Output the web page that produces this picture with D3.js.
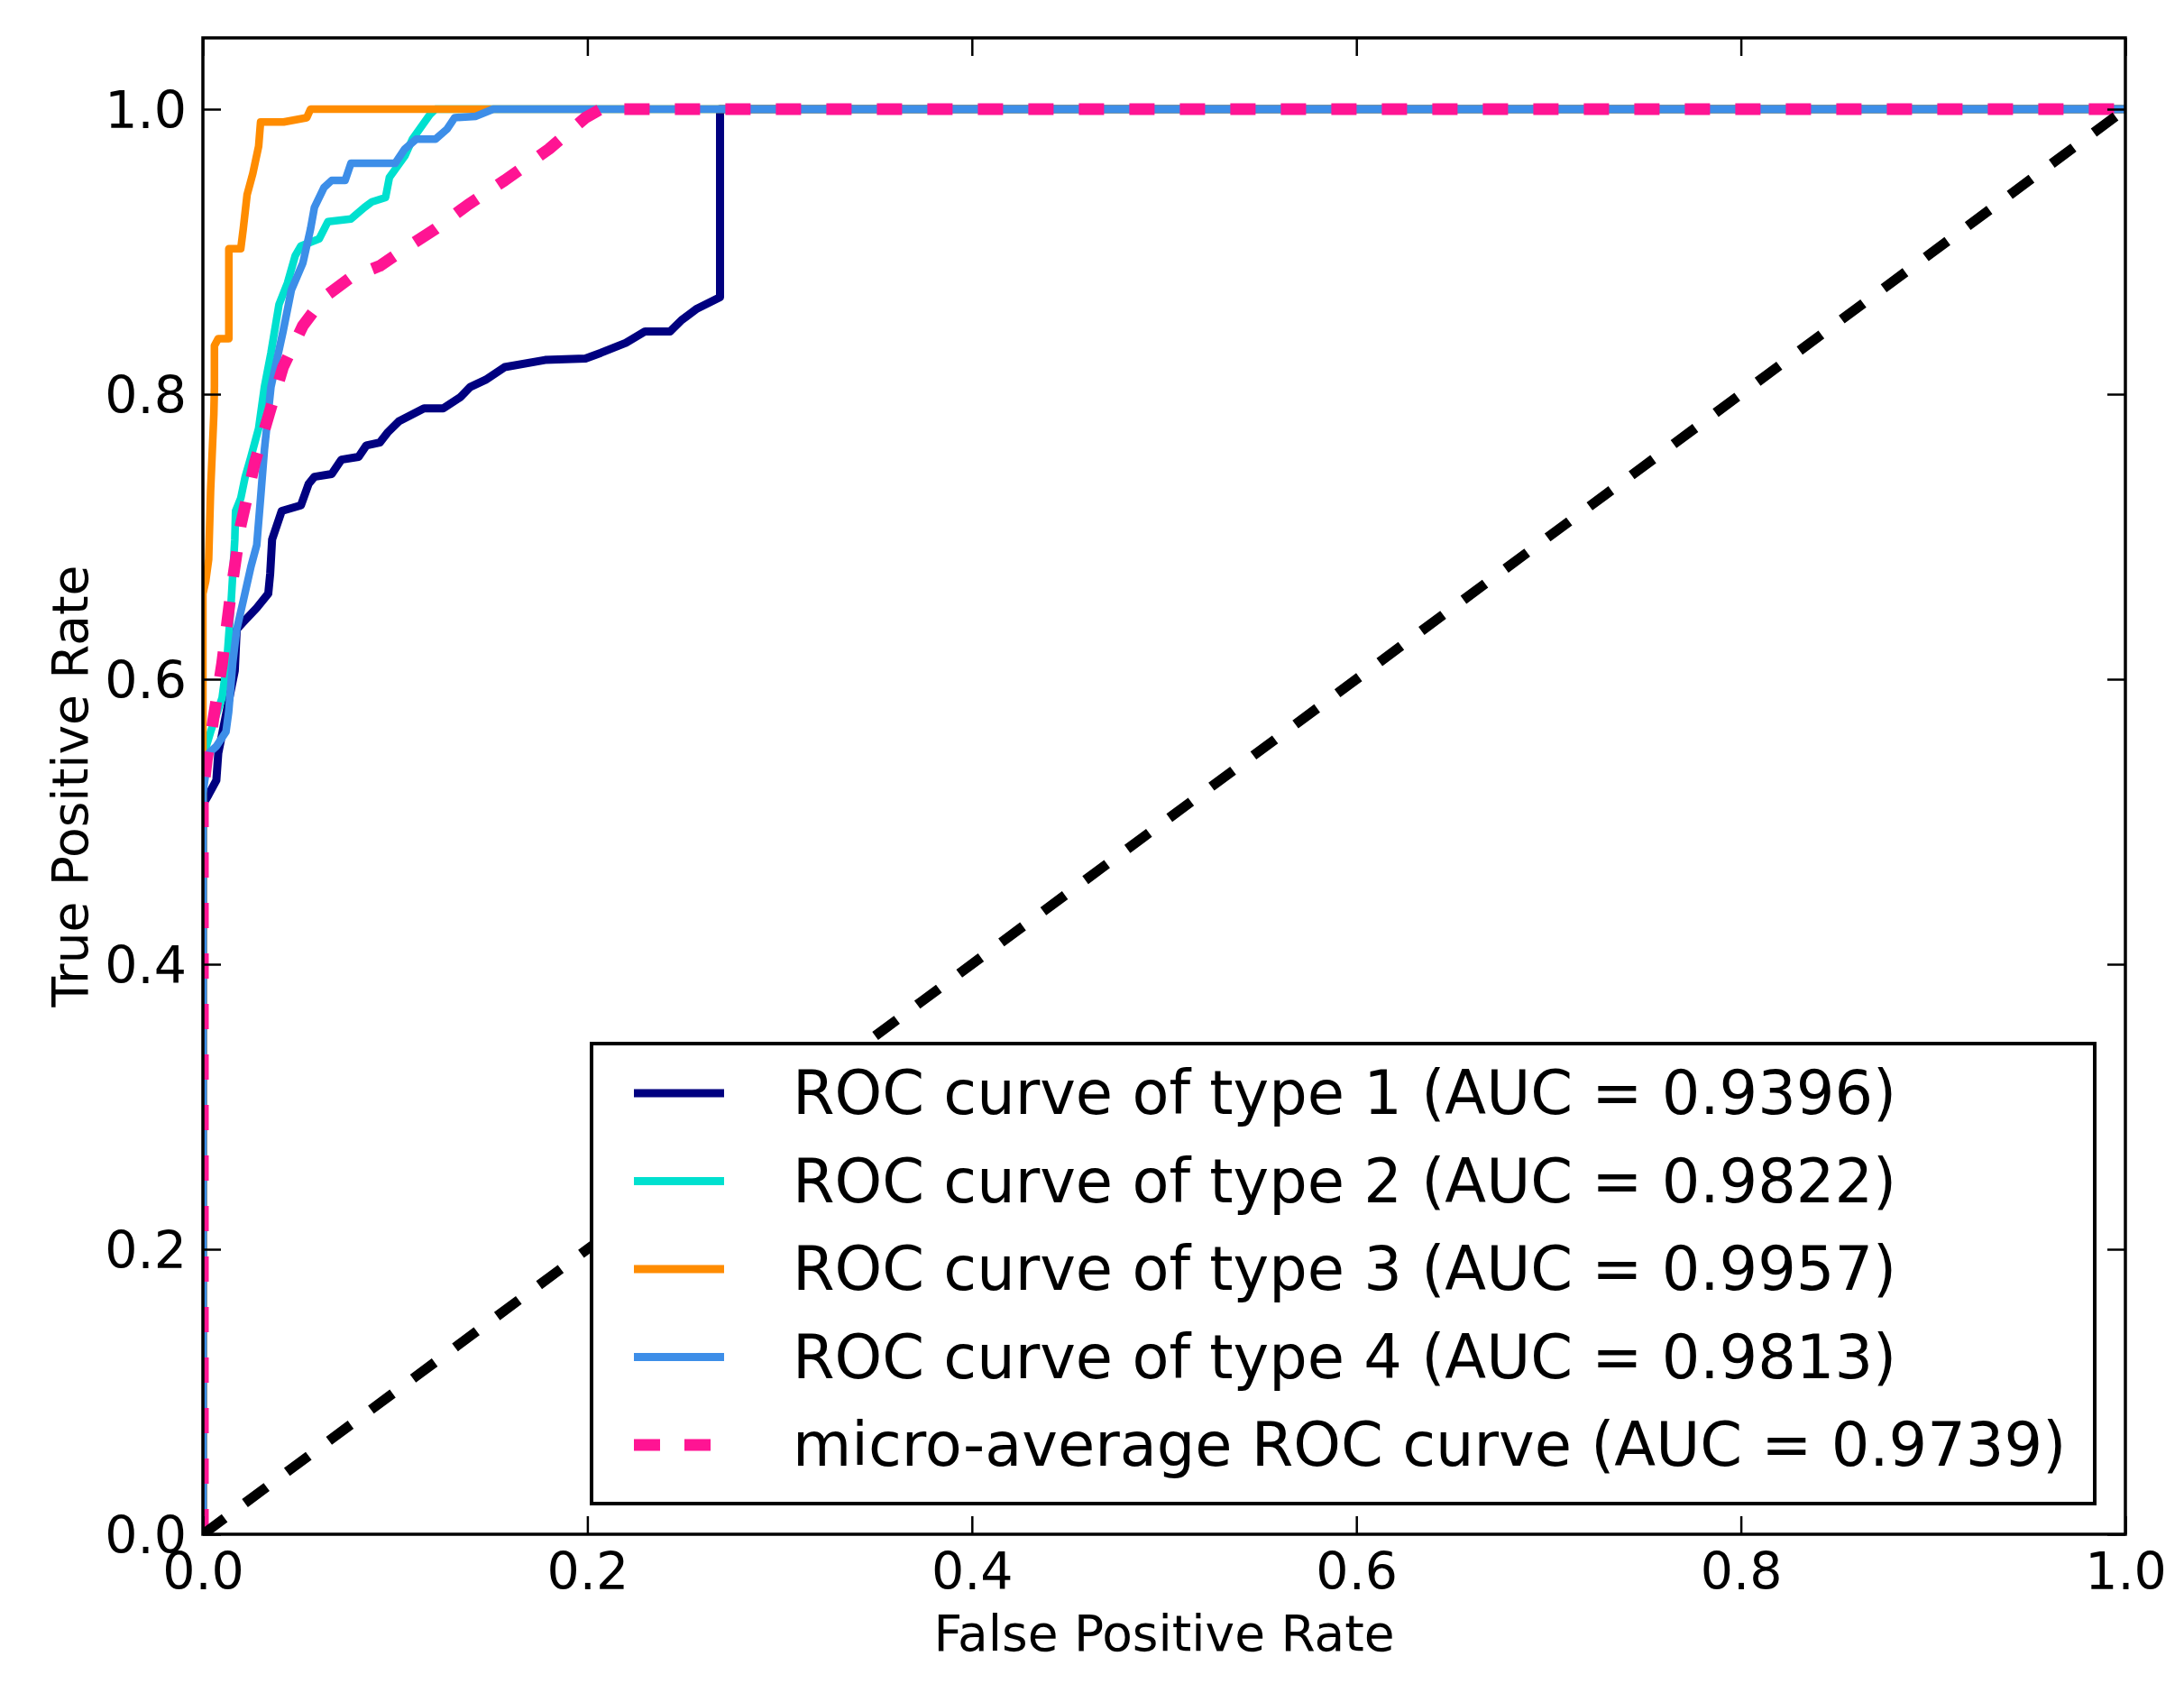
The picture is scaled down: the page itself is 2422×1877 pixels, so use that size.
<!DOCTYPE html>
<html>
<head>
<meta charset="utf-8">
<script src="https://cdn.jsdelivr.net/npm/d3@7"></script>
<style>
	body { margin: 0; background: #fff; }
	text { font-family: "DejaVu Sans", sans-serif; fill: #000; }
</style>
</head>
<body>
<div id="my_dataviz"></div>
<script>
// ROC points (fpr, tpr)
const type1Fpr = [0, 0, 0.003, 0.007, 0.008, 0.0166, 0.0176, 0.021, 0.028, 0.034, 0.035, 0.036, 0.041, 0.051, 0.055, 0.058, 0.067, 0.072, 0.081, 0.085, 0.092, 0.096, 0.102, 0.115, 0.125, 0.134, 0.139, 0.147, 0.157, 0.178, 0.199, 0.207, 0.220, 0.230, 0.243, 0.249, 0.257, 0.269, 0.269, 1.0];
const type1Tpr = [0, 0.512, 0.519, 0.529, 0.548, 0.606, 0.635, 0.640, 0.650, 0.660, 0.674, 0.698, 0.718, 0.722, 0.737, 0.742, 0.744, 0.754, 0.756, 0.764, 0.766, 0.773, 0.781, 0.790, 0.790, 0.798, 0.805, 0.810, 0.819, 0.824, 0.825, 0.829, 0.836, 0.844, 0.844, 0.852, 0.860, 0.868, 1.0, 1.0];

const type2Fpr = [0, 0, 0.004, 0.010, 0.0124, 0.0145, 0.0166, 0.0170, 0.0197, 0.022, 0.025, 0.029, 0.032, 0.0354, 0.0396, 0.044, 0.048, 0.051, 0.0605, 0.065, 0.077, 0.084, 0.088, 0.095, 0.097, 0.105, 0.109, 0.118, 0.121, 1.0];
const type2Tpr = [0, 0.545, 0.563, 0.587, 0.611, 0.650, 0.698, 0.718, 0.727, 0.742, 0.756, 0.776, 0.805, 0.829, 0.863, 0.878, 0.897, 0.904, 0.909, 0.921, 0.923, 0.931, 0.935, 0.938, 0.952, 0.967, 0.979, 0.996, 1.0, 1.0];

const type3Fpr = [0, 0, 0.0015, 0.003, 0.004, 0.0057, 0.006, 0.006, 0.008, 0.0135, 0.0135, 0.0197, 0.021, 0.023, 0.026, 0.029, 0.030, 0.042, 0.054, 0.056, 1.0];
const type3Tpr = [0, 0.66, 0.669, 0.684, 0.732, 0.786, 0.805, 0.834, 0.839, 0.839, 0.902, 0.902, 0.916, 0.940, 0.955, 0.974, 0.991, 0.991, 0.994, 1.0, 1.0];

const type4Fpr = [0, 0, 0.003, 0.007, 0.012, 0.0134, 0.0155, 0.0176, 0.021, 0.025, 0.028, 0.030, 0.032, 0.0354, 0.0417, 0.046, 0.052, 0.056, 0.058, 0.063, 0.067, 0.074, 0.077, 0.100, 0.105, 0.111, 0.121, 0.127, 0.131, 0.142, 0.151, 1.0];
const type4Tpr = [0, 0.52, 0.548, 0.553, 0.563, 0.577, 0.611, 0.635, 0.655, 0.679, 0.694, 0.727, 0.761, 0.805, 0.844, 0.873, 0.892, 0.916, 0.931, 0.945, 0.950, 0.950, 0.962, 0.962, 0.972, 0.979, 0.979, 0.986, 0.994, 0.995, 1.0, 1.0];

const microFpr = [0, 0, 0.002, 0.005, 0.010, 0.0145, 0.0197, 0.027, 0.0344, 0.0417, 0.052, 0.063, 0.077, 0.092, 0.105, 0.121, 0.138, 0.157, 0.180, 0.199, 0.207, 1.0];
const microTpr = [0, 0.52, 0.543, 0.568, 0.611, 0.660, 0.708, 0.752, 0.786, 0.819, 0.848, 0.868, 0.882, 0.890, 0.902, 0.916, 0.933, 0.950, 0.972, 0.994, 1.0, 1.0];

const chanceFpr = [0, 1];
const chanceTpr = [0, 1];

const seriesNames = ["ROC curve of type 1 (AUC = 0.9396)", "ROC curve of type 2 (AUC = 0.9822)", "ROC curve of type 3 (AUC = 0.9957)", "ROC curve of type 4 (AUC = 0.9813)", "micro-average ROC curve (AUC = 0.9739)"];
const seriesColors = ["#000080", "#00e0cf", "#ff8c00", "#3d8ee8", "#ff1493"];

const xTicks = [0, 0.2, 0.4, 0.6, 0.8, 1.0];
const yTicks = [0, 0.2, 0.4, 0.6, 0.8, 1.0];

var margin = { top: 42, right: 65, bottom: 176, left: 225 },
	width = 2422 - margin.left - margin.right,
	height = 1877 - margin.top - margin.bottom;

var svg = d3
	.select("#my_dataviz")
	.append("svg")
	.attr("width", 2422)
	.attr("height", 1877)
	.append("g")
	.attr("transform", "translate(" + margin.left + "," + margin.top + ")");

var x = d3.scaleLinear().domain([0, 1]).range([0, width]);
var y = d3.scaleLinear().domain([0, 1.05]).range([height, 0]);

svg.append("clipPath")
	.attr("id", "plotclip")
	.append("rect")
	.attr("width", width)
	.attr("height", height);

function zipPts(xs, ys) {
	return xs.map(function (d, i) {
		return [d, ys[i]];
	});
}

var line = d3
	.line()
	.x(function (d) { return x(d[0]); })
	.y(function (d) { return y(d[1]); });

var curves = [
	{ pts: zipPts(type1Fpr, type1Tpr), color: seriesColors[0], w: 9, dash: null },
	{ pts: zipPts(type2Fpr, type2Tpr), color: seriesColors[1], w: 8.5, dash: null },
	{ pts: zipPts(type3Fpr, type3Tpr), color: seriesColors[2], w: 8.5, dash: null },
	{ pts: zipPts(type4Fpr, type4Tpr), color: seriesColors[3], w: 8.5, dash: null },
	{ pts: zipPts(microFpr, microTpr), color: seriesColors[4], w: 13, dash: "28,28" },
	{ pts: zipPts(chanceFpr, chanceTpr), color: "#000", w: 11, dash: "30,28" }
];

var plot = svg.append("g").attr("clip-path", "url(#plotclip)");

plot.selectAll(".curve")
	.data(curves)
	.enter()
	.append("path")
	.attr("class", "curve")
	.attr("d", function (d) { return line(d.pts); })
	.attr("fill", "none")
	.attr("stroke", function (d) { return d.color; })
	.attr("stroke-width", function (d) { return d.w; })
	.attr("stroke-dasharray", function (d) { return d.dash; })
	.attr("stroke-linejoin", "round");

// axes, ticks point inward on all four sides
function styleAxis(g) {
	g.select(".domain").remove();
	g.selectAll(".tick line").attr("stroke", "#000").attr("stroke-width", 2.5);
	g.selectAll(".tick text").style("font-size", "57px").attr("fill", "#000");
}

svg.append("g")
	.attr("transform", "translate(0," + height + ")")
	.call(d3.axisBottom(x).tickValues(xTicks).tickFormat(d3.format(".1f")).tickSizeInner(-20).tickSizeOuter(0).tickPadding(21))
	.call(styleAxis);

svg.append("g")
	.call(d3.axisLeft(y).tickValues(yTicks).tickFormat(d3.format(".1f")).tickSizeInner(-20).tickSizeOuter(0).tickPadding(18))
	.call(styleAxis)
	.selectAll(".tick text")
	.attr("dy", "0.36em");

svg.append("g")
	.call(d3.axisTop(x).tickValues(xTicks).tickFormat("").tickSizeInner(-20).tickSizeOuter(0))
	.call(styleAxis);

svg.append("g")
	.attr("transform", "translate(" + width + ",0)")
	.call(d3.axisRight(y).tickValues(yTicks).tickFormat("").tickSizeInner(-20).tickSizeOuter(0))
	.call(styleAxis);

svg.append("rect")
	.attr("width", width)
	.attr("height", height)
	.attr("fill", "none")
	.attr("stroke", "#000")
	.attr("stroke-width", 3.5);

svg.append("text")
	.attr("x", width / 2)
	.attr("y", height + 129)
	.attr("text-anchor", "middle")
	.style("font-size", "55px")
	.text("False Positive Rate");

svg.append("text")
	.attr("x", -height / 2)
	.attr("y", -128)
	.attr("transform", "rotate(-90)")
	.attr("text-anchor", "middle")
	.style("font-size", "55px")
	.text("True Positive Rate");

// legend
var legend = svg.append("g").attr("transform", "translate(" + (656 - margin.left) + "," + (1157 - margin.top) + ")");

legend.append("rect")
	.attr("width", 1667)
	.attr("height", 510)
	.attr("fill", "#fff")
	.attr("stroke", "#000")
	.attr("stroke-width", 4);

var rows = legend
	.selectAll(".entry")
	.data(seriesNames)
	.enter()
	.append("g")
	.attr("class", "entry")
	.attr("transform", function (d, i) {
		return "translate(0," + (55 + i * 97.5) + ")";
	});

rows.append("line")
	.attr("x1", 47)
	.attr("x2", 147)
	.attr("stroke", function (d, i) { return seriesColors[i]; })
	.attr("stroke-width", function (d, i) { return i === 4 ? 13 : 9; })
	.attr("stroke-dasharray", function (d, i) { return i === 4 ? "29,27" : null; });

rows.append("text")
	.attr("x", 223)
	.attr("y", 23)
	.style("font-size", "67px")
	.text(function (d) { return d; });
</script>
</body>
</html>
